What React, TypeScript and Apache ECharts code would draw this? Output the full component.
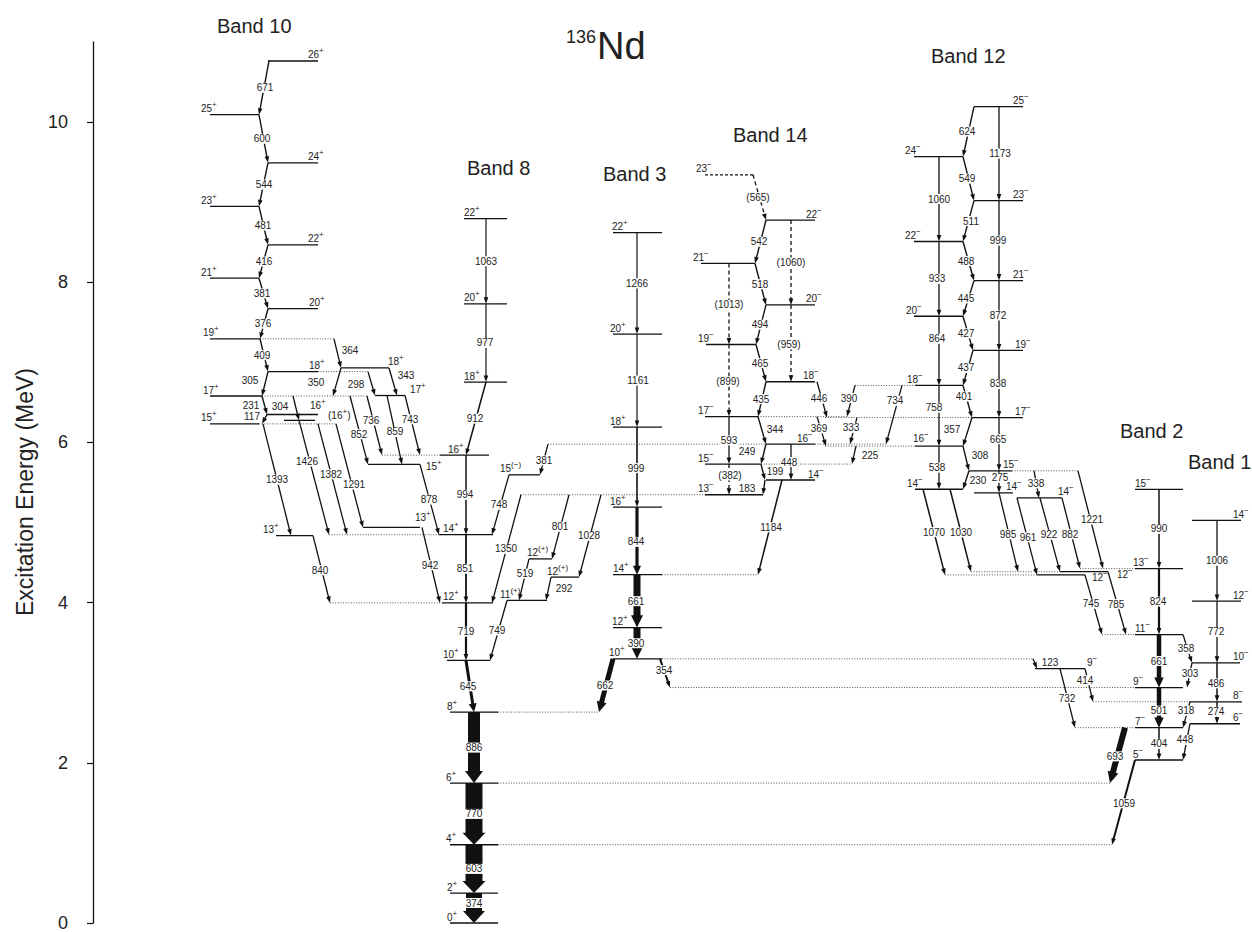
import React, { useEffect, useRef } from "react";
import * as echarts from "echarts";

const FONT = "'Liberation Sans', Arial, Helvetica, sans-serif";

// ---------- DATA: level energies (keV) and spins ----------
const levelEnergy: Record<string, number> = {
  g0: 0, g2: 374, g4: 977, g6: 1747, g8: 2633,
  b8_10: 3278, b8_12: 3997, b8_14: 4848, b8_16: 5842, b8_18: 6754, b8_20: 7731, b8_22: 8794,
  b8_13a: 4837, b8_13b: 4939, b8_15: 5726, b8_17: 6586, b8_18b: 6930,
  p11: 4027, p12a: 4546, p12b: 4319, p15: 5596,
  b10_15: 6232, b10_16: 6349, b10_16p: 6276, b10_17: 6580, b10_18: 6885, b10_19: 7294, b10_20: 7670,
  b10_21: 8051, b10_22: 8467, b10_23: 8948, b10_24: 9492, b10_25: 10092, b10_26: 10763,
  b3_10: 3298, b3_12: 3688, b3_14: 4349, b3_16: 5193, b3_18: 6192, b3_20: 7353, b3_22: 8619,
  b14_13: 5347, b14_14: 5531, b14_15: 5730, b14_16: 5979, b14_17: 6323, b14_18: 6758, b14_19: 7223,
  b14_20: 7717, b14_21: 8235, b14_22: 8777, b14_23: 9342,
  b12_14: 5416, b12_15: 5646, b12_16: 5954, b12_17: 6311, b12_18: 6712, b12_19: 7149, b12_20: 7576,
  b12_21: 8021, b12_22: 8509, b12_23: 9020, b12_24: 9569, b12_25: 10193,
  n14a: 5371, n14b: 5307, n12a: 4346, n12b: 4386, n9: 3175,
  b2_5: 2035, b2_7: 2439, b2_9: 2940, b2_11: 3601, b2_13: 4425, b2_15: 5415,
  b1_6: 2488, b1_8: 2762, b1_10: 3248, b1_12: 4020, b1_14: 5026,
};

const levelSpin: Record<string, string> = {
  g0: "0+", g2: "2+", g4: "4+", g6: "6+", g8: "8+",
  b8_10: "10+", b8_12: "12+", b8_14: "14+", b8_16: "16+", b8_18: "18+", b8_20: "20+", b8_22: "22+",
  b8_13a: "13+", b8_13b: "13+", b8_15: "15+", b8_17: "17+", b8_18b: "18+",
  p11: "11(+)", p12a: "12(+)", p12b: "12(+)", p15: "15(-)",
  b10_15: "15+", b10_16: "16+", b10_16p: "(16+)", b10_17: "17+", b10_18: "18+", b10_19: "19+", b10_20: "20+",
  b10_21: "21+", b10_22: "22+", b10_23: "23+", b10_24: "24+", b10_25: "25+", b10_26: "26+",
  b3_10: "10+", b3_12: "12+", b3_14: "14+", b3_16: "16+", b3_18: "18+", b3_20: "20+", b3_22: "22+",
  b14_13: "13-", b14_14: "14-", b14_15: "15-", b14_16: "16-", b14_17: "17-", b14_18: "18-", b14_19: "19-",
  b14_20: "20-", b14_21: "21-", b14_22: "22-", b14_23: "23-",
  b12_14: "14-", b12_15: "15-", b12_16: "16-", b12_17: "17-", b12_18: "18-", b12_19: "19-", b12_20: "20-",
  b12_21: "21-", b12_22: "22-", b12_23: "23-", b12_24: "24-", b12_25: "25-",
  n14a: "14-", n14b: "14-", n12a: "12-", n12b: "12-", n9: "9-",
  b2_5: "5-", b2_7: "7-", b2_9: "9-", b2_11: "11-", b2_13: "13-", b2_15: "15-",
  b1_6: "6-", b1_8: "8-", b1_10: "10-", b1_12: "12-", b1_14: "14-",
};

// ---------- DATA: gamma transitions [energy label, from level, to level] ----------
const transitions: [string, string, string][] = [
  ["671", "b10_26", "b10_25"], ["600", "b10_25", "b10_24"], ["544", "b10_24", "b10_23"],
  ["481", "b10_23", "b10_22"], ["416", "b10_22", "b10_21"], ["381", "b10_21", "b10_20"],
  ["376", "b10_20", "b10_19"], ["409", "b10_19", "b10_18"], ["305", "b10_18", "b10_17"],
  ["231", "b10_17", "b10_16"], ["117", "b10_16", "b10_15"], ["364", "b10_19", "b8_18b"],
  ["350", "b8_18b", "b10_17"], ["298", "b10_18", "b8_17"], ["343", "b8_18b", "b8_17"],
  ["304", "b10_17", "b10_16p"], ["1426", "b10_16p", "b8_14"], ["1393", "b10_15", "b8_13a"],
  ["1382", "b10_15", "b8_14"], ["1291", "b10_15", "b8_13b"], ["852", "b10_17", "b8_15"],
  ["736", "b10_17", "b8_16"], ["859", "b8_17", "b8_15"], ["743", "b8_17", "b8_16"],
  ["878", "b8_15", "b8_14"], ["840", "b8_13a", "b8_12"], ["942", "b8_13b", "b8_12"],
  ["1063", "b8_22", "b8_20"], ["977", "b8_20", "b8_18"], ["912", "b8_18", "b8_16"],
  ["994", "b8_16", "b8_14"], ["851", "b8_14", "b8_12"], ["719", "b8_12", "b8_10"],
  ["645", "b8_10", "g8"], ["886", "g8", "g6"], ["770", "g6", "g4"], ["603", "g4", "g2"], ["374", "g2", "g0"],
  ["748", "p15", "b8_14"], ["381", "b14_16", "p15"], ["1350", "b14_13", "b8_12"],
  ["801", "b14_13", "p12a"], ["1028", "b14_13", "p12b"], ["519", "p12a", "p11"],
  ["292", "p12b", "p11"], ["749", "p11", "b8_10"],
  ["1266", "b3_22", "b3_20"], ["1161", "b3_20", "b3_18"], ["999", "b3_18", "b3_16"],
  ["844", "b3_16", "b3_14"], ["661", "b3_14", "b3_12"], ["390", "b3_12", "b3_10"],
  ["662", "b3_10", "g8"], ["354", "b3_10", "b2_9"], ["1184", "b14_14", "b3_14"],
  ["(565)", "b14_23", "b14_22"], ["542", "b14_22", "b14_21"], ["518", "b14_21", "b14_20"],
  ["494", "b14_20", "b14_19"], ["465", "b14_19", "b14_18"], ["435", "b14_18", "b14_17"],
  ["344", "b14_17", "b14_16"], ["249", "b14_16", "b14_15"], ["199", "b14_15", "b14_14"],
  ["183", "b14_14", "b14_13"], ["(1060)", "b14_22", "b14_20"], ["(959)", "b14_20", "b14_18"],
  ["(1013)", "b14_21", "b14_19"], ["(899)", "b14_19", "b14_17"], ["593", "b14_17", "b14_15"],
  ["(382)", "b14_15", "b14_13"], ["448", "b14_16", "b14_14"], ["446", "b14_18", "b12_17"],
  ["369", "b14_17", "b12_16"], ["390", "b12_18", "b14_17"], ["333", "b12_17", "b14_16"],
  ["734", "b12_18", "b14_16"], ["225", "b12_16", "b14_15"],
  ["624", "b12_25", "b12_24"], ["549", "b12_24", "b12_23"], ["511", "b12_23", "b12_22"],
  ["488", "b12_22", "b12_21"], ["445", "b12_21", "b12_20"], ["427", "b12_20", "b12_19"],
  ["437", "b12_19", "b12_18"], ["401", "b12_18", "b12_17"], ["357", "b12_17", "b12_16"],
  ["308", "b12_16", "b12_15"], ["230", "b12_15", "b12_14"], ["1060", "b12_24", "b12_22"],
  ["933", "b12_22", "b12_20"], ["864", "b12_20", "b12_18"], ["758", "b12_18", "b12_16"],
  ["538", "b12_16", "b12_14"], ["1173", "b12_25", "b12_23"], ["999", "b12_23", "b12_21"],
  ["872", "b12_21", "b12_19"], ["838", "b12_19", "b12_17"], ["665", "b12_17", "b12_15"],
  ["275", "b12_15", "n14a"], ["338", "b12_15", "n14b"], ["922", "n14b", "n12b"],
  ["1221", "b12_15", "b2_13"], ["1070", "b12_14", "n12a"], ["1030", "b12_14", "n12b"],
  ["985", "n14a", "n12b"], ["961", "n14b", "n12a"], ["882", "n14b", "b2_13"],
  ["745", "n12a", "b2_11"], ["785", "n12b", "b2_11"],
  ["990", "b2_15", "b2_13"], ["824", "b2_13", "b2_11"], ["661", "b2_11", "b2_9"],
  ["501", "b2_9", "b2_7"], ["404", "b2_7", "b2_5"], ["693", "b2_7", "g6"], ["1059", "b2_5", "g4"],
  ["123", "b3_10", "n9"], ["414", "n9", "b1_8"], ["732", "n9", "b2_7"],
  ["358", "b2_11", "b1_10"], ["303", "b1_10", "b2_9"], ["318", "b1_8", "b2_7"], ["448", "b1_6", "b2_5"],
  ["1006", "b1_14", "b1_12"], ["772", "b1_12", "b1_10"], ["486", "b1_10", "b1_8"], ["274", "b1_8", "b1_6"],
];

// ---------- LAYOUT (horizontal positions, widths, styles) ----------
// level segment: [level, x1, x2, style 0 solid / 1 dotted / 2 dashed]
const levelSegments: [string, number, number, number][] = [
  ["g0", 450, 498, 0], ["g2", 450, 498, 0], ["g4", 450, 498, 0], ["g4", 498, 1112, 1],
  ["g6", 450, 498, 0], ["g6", 498, 1110, 1], ["g8", 450, 498, 0], ["g8", 498, 599, 1],
  ["b8_10", 447, 490, 0], ["b8_12", 442, 493, 0], ["b8_12", 330, 442, 1], ["b8_14", 439, 493, 0],
  ["b8_14", 329, 439, 1], ["b8_16", 440, 489, 0], ["b8_16", 382, 440, 1], ["b8_18", 464, 507, 0],
  ["b8_20", 464, 507, 0], ["b8_22", 464, 507, 0],
  ["b8_13a", 276, 313, 0], ["b8_13b", 363, 420, 0], ["b8_15", 368, 420, 0], ["b8_17", 375, 405, 0],
  ["b8_18b", 341, 389, 0],
  ["p11", 507, 547, 0], ["p12a", 529, 552, 0], ["p12b", 551, 579, 0], ["p15", 509, 540, 0],
  ["b10_15", 210, 259, 0], ["b10_15", 259, 336, 1], ["b10_16", 267, 318, 0], ["b10_16p", 284, 315, 0],
  ["b10_17", 210, 262, 0], ["b10_17", 262, 367, 1], ["b10_18", 268, 318, 0], ["b10_18", 318, 368, 1],
  ["b10_19", 210, 260, 0], ["b10_19", 260, 334, 1], ["b10_20", 268, 318, 0], ["b10_21", 210, 259, 0],
  ["b10_22", 268, 318, 0], ["b10_23", 210, 259, 0], ["b10_24", 268, 318, 0], ["b10_25", 210, 259, 0],
  ["b10_26", 268, 318, 0],
  ["b3_10", 613, 662, 0], ["b3_10", 662, 1033, 1], ["b3_12", 613, 662, 0], ["b3_14", 613, 662, 0],
  ["b3_14", 662, 758, 1], ["b3_16", 613, 662, 0], ["b3_18", 613, 662, 0], ["b3_20", 613, 662, 0],
  ["b3_22", 613, 662, 0],
  ["b14_13", 705, 763, 0], ["b14_13", 520, 705, 1], ["b14_14", 766, 815, 0], ["b14_15", 705, 761, 0],
  ["b14_15", 761, 852, 1], ["b14_16", 766, 815, 0], ["b14_16", 548, 766, 1], ["b14_16", 815, 886, 1],
  ["b14_17", 705, 758, 0], ["b14_17", 758, 848, 1], ["b14_18", 766, 815, 0], ["b14_19", 706, 756, 0],
  ["b14_20", 766, 815, 0], ["b14_21", 701, 755, 0], ["b14_22", 766, 815, 0], ["b14_23", 705, 753, 2],
  ["b12_14", 915, 963, 0], ["b12_15", 969, 1012, 0], ["b12_15", 1012, 1078, 1], ["b12_16", 915, 963, 0],
  ["b12_16", 825, 915, 1], ["b12_17", 972, 1023, 0], ["b12_17", 825, 972, 1], ["b12_18", 915, 963, 0],
  ["b12_18", 855, 915, 1], ["b12_19", 973, 1023, 0], ["b12_20", 914, 963, 0], ["b12_21", 974, 1023, 0],
  ["b12_22", 914, 963, 0], ["b12_23", 974, 1023, 0], ["b12_24", 914, 963, 0], ["b12_25", 974, 1023, 0],
  ["n14a", 974, 1013, 0], ["n14b", 1017, 1062, 0], ["n12a", 1037, 1085, 0], ["n12a", 945, 1037, 1],
  ["n12b", 1060, 1108, 0], ["n12b", 971, 1060, 1], ["n9", 1035, 1085, 0],
  ["b2_5", 1135, 1183, 0], ["b2_7", 1135, 1183, 0], ["b2_7", 1075, 1135, 1], ["b2_9", 1135, 1183, 0],
  ["b2_9", 670, 1135, 1], ["b2_11", 1135, 1183, 0], ["b2_11", 1102, 1135, 1], ["b2_13", 1135, 1183, 0],
  ["b2_13", 1080, 1135, 1], ["b2_15", 1135, 1183, 0],
  ["b1_6", 1190, 1240, 0], ["b1_8", 1190, 1242, 0], ["b1_8", 1093, 1190, 1], ["b1_10", 1192, 1240, 0],
  ["b1_12", 1192, 1241, 0], ["b1_14", 1192, 1241, 0],
];

// spin label: [left x, vertical offset px]
const spinLabelPos: Record<string, [number, number]> = {
  g0: [447, 0], g2: [447, 0], g4: [446, 0], g6: [446, 0], g8: [447, 0],
  b8_10: [443, 0], b8_12: [443, 0], b8_14: [443, 0], b8_16: [448, 0], b8_18: [464, 0], b8_20: [464, 0], b8_22: [464, 0],
  b8_13a: [263, 0], b8_13b: [415, -4], b8_15: [426, 8], b8_17: [410, 0], b8_18b: [388, 0],
  p11: [500, 0], p12a: [527, 0], p12b: [547, 0], p15: [500, 0],
  b10_15: [201, 0], b10_16: [310, -3], b10_16p: [328, 1], b10_17: [203, 0], b10_18: [309, 0], b10_19: [203, 0],
  b10_20: [309, 0], b10_21: [201, 0], b10_22: [308, 0], b10_23: [201, 0], b10_24: [308, 0], b10_25: [201, 0], b10_26: [308, 0],
  b3_10: [609, 0], b3_12: [612, 0], b3_14: [613, 0], b3_16: [610, 0], b3_18: [610, 0], b3_20: [610, 0], b3_22: [612, 0],
  b14_23: [696, 0], b14_22: [806, 0], b14_21: [693, 0], b14_20: [806, 0], b14_19: [698, 0], b14_18: [803, 0],
  b14_17: [698, 0], b14_16: [797, 0], b14_15: [698, 0], b14_14: [808, 0], b14_13: [698, 0],
  b12_25: [1013, 0], b12_24: [905, 0], b12_23: [1013, 0], b12_22: [905, 0], b12_21: [1013, 0], b12_20: [906, 0],
  b12_19: [1015, 0], b12_18: [907, 0], b12_17: [1015, 0], b12_16: [913, -2], b12_15: [1003, 0], b12_14: [907, 0],
  n14a: [1006, 0], n14b: [1058, 0], n12a: [1092, 9], n12b: [1117, 9], n9: [1087, 0],
  b2_15: [1135, 0], b2_13: [1133, 0], b2_11: [1135, 0], b2_9: [1133, 0], b2_7: [1135, 0], b2_5: [1133, 0],
  b1_14: [1233, 0], b1_12: [1233, 0], b1_10: [1233, 0], b1_8: [1233, 0], b1_6: [1233, 0],
};

// transition layout keyed "from>to": [xFrom, xTo, lineWidth, dashed, labelX, labelDy]
const transitionLayout: Record<string, number[]> = {
  "b10_26>b10_25": [269, 259, 1.4, 0, 265, 0], "b10_25>b10_24": [259, 268, 1.4, 0, 262, 0],
  "b10_24>b10_23": [268, 259, 1.4, 0, 264, 0], "b10_23>b10_22": [259, 268, 1.4, 0, 263, 0],
  "b10_22>b10_21": [268, 259, 1.4, 0, 264, 0], "b10_21>b10_20": [259, 268, 1.4, 0, 262, 0],
  "b10_20>b10_19": [268, 260, 1.4, 0, 263, 0], "b10_19>b10_18": [260, 268, 1.4, 0, 262, 0],
  "b10_18>b10_17": [268, 262, 1.4, 0, 250, -3], "b10_17>b10_16": [262, 267, 1.4, 0, 251, 0],
  "b10_16>b10_15": [267, 262, 1.4, 0, 252, -3], "b10_19>b8_18b": [334, 341, 1.3, 0, 350, -3],
  "b8_18b>b10_17": [341, 333, 1.3, 0, 316, 1], "b10_18>b8_17": [368, 375, 1.3, 0, 356, 1],
  "b8_18b>b8_17": [389, 397, 1.3, 0, 406, -6], "b10_17>b10_16p": [293, 299, 1.3, 0, 280, -2],
  "b10_16p>b8_14": [299, 329, 1.3, 0, 307, -16], "b10_15>b8_13a": [263, 291, 1.3, 0, 277, 0],
  "b10_15>b8_14": [318, 347, 1.3, 0, 331, -5], "b10_15>b8_13b": [336, 363, 1.3, 0, 354, 9],
  "b10_17>b8_15": [350, 368, 1.3, 0, 359, 4], "b10_17>b8_16": [367, 382, 1.3, 0, 371, -5],
  "b8_17>b8_15": [387, 402, 1.3, 0, 395, 2], "b8_17>b8_16": [405, 420, 1.3, 0, 410, -6],
  "b8_15>b8_14": [420, 439, 1.3, 0, 429, 0], "b8_13a>b8_12": [313, 330, 1.3, 0, 320, 1],
  "b8_13b>b8_12": [422, 440, 1.3, 0, 430, 0],
  "b8_22>b8_20": [486, 486, 1.2, 0, 486, 0], "b8_20>b8_18": [486, 486, 1.2, 0, 485, 0],
  "b8_18>b8_16": [486, 466, 1.5, 0, 475, 0], "b8_16>b8_14": [466, 466, 1.5, 0, 465, 0],
  "b8_14>b8_12": [466, 466, 1.8, 0, 465, 0], "b8_12>b8_10": [466, 466, 2.2, 0, 466, 0],
  "b8_10>g8": [466, 474, 3, 0, 468, 0], "g8>g6": [474, 474, 12, 0, 474, 0],
  "g6>g4": [474, 474, 17, 0, 474, 0], "g4>g2": [474, 474, 17, 0, 474, 0], "g2>g0": [474, 474, 16, 0, 474, -5],
  "p15>b8_14": [509, 492, 1.3, 0, 499, 0], "b14_16>p15": [548, 540, 1.3, 0, 544, 1],
  "b14_13>b8_12": [521, 492, 1.3, 0, 506, 0], "b14_13>p12a": [569, 552, 1.3, 0, 560, 0],
  "b14_13>p12b": [601, 579, 1.3, 0, 589, 0], "p12a>p11": [529, 519, 1.3, 0, 525, -6],
  "p12b>p11": [551, 546, 1.3, 0, 564, 0], "p11>b8_10": [507, 490, 1.3, 0, 497, 0],
  "b3_22>b3_20": [637, 637, 1.2, 0, 637, 0], "b3_20>b3_18": [637, 637, 1.2, 0, 638, 0],
  "b3_18>b3_16": [637, 637, 1.6, 0, 636, 1], "b3_16>b3_14": [637, 637, 3.2, 0, 636, 1],
  "b3_14>b3_12": [637, 637, 7, 0, 636, 0], "b3_12>b3_10": [637, 637, 7, 0, 636, 0],
  "b3_10>g8": [613, 599, 5, 0, 605, 0], "b3_10>b2_9": [660, 670, 2, 0, 664, -3],
  "b14_14>b3_14": [782, 758, 1.5, 0, 771, 0],
  "b14_23>b14_22": [753, 766, 1.3, 1, 758, 0], "b14_22>b14_21": [766, 755, 1.4, 0, 759, 0],
  "b14_21>b14_20": [755, 766, 1.4, 0, 760, 0], "b14_20>b14_19": [766, 756, 1.4, 0, 760, 0],
  "b14_19>b14_18": [756, 766, 1.4, 0, 760, 0], "b14_18>b14_17": [766, 758, 1.4, 0, 761, 0],
  "b14_17>b14_16": [758, 766, 1.4, 0, 775, -1], "b14_16>b14_15": [766, 761, 1.4, 0, 747, -3],
  "b14_15>b14_14": [761, 765, 1.4, 0, 775, -1], "b14_14>b14_13": [765, 763, 1.4, 0, 747, 1],
  "b14_22>b14_20": [791, 791, 1.3, 1, 791, 0], "b14_20>b14_18": [791, 791, 1.3, 1, 789, 1],
  "b14_21>b14_19": [729, 729, 1.3, 1, 729, 1], "b14_19>b14_17": [729, 729, 1.3, 1, 728, 1],
  "b14_17>b14_15": [729, 729, 1.3, 0, 729, 0], "b14_15>b14_13": [729, 729, 1.3, 1, 730, -4],
  "b14_16>b14_14": [791, 791, 1.3, 0, 789, 0], "b14_18>b12_17": [817, 827, 1.3, 0, 819, -1],
  "b14_17>b12_16": [817, 826, 1.3, 0, 819, -3], "b12_18>b14_17": [855, 847, 1.3, 0, 849, -3],
  "b12_17>b14_16": [857, 850, 1.3, 0, 851, -3], "b12_18>b14_16": [902, 886, 1.3, 0, 895, -14],
  "b12_16>b14_15": [856, 852, 1.3, 0, 870, 0],
  "b12_25>b12_24": [974, 963, 1.4, 0, 967, 0], "b12_24>b12_23": [963, 974, 1.4, 0, 967, 0],
  "b12_23>b12_22": [974, 963, 1.4, 0, 971, 0], "b12_22>b12_21": [963, 974, 1.4, 0, 966, 0],
  "b12_21>b12_20": [974, 963, 1.4, 0, 966, 0], "b12_20>b12_19": [963, 973, 1.4, 0, 966, 0],
  "b12_19>b12_18": [973, 963, 1.4, 0, 966, 0], "b12_18>b12_17": [963, 972, 1.4, 0, 964, -5],
  "b12_17>b12_16": [972, 963, 1.4, 0, 952, -2], "b12_16>b12_15": [963, 969, 1.4, 0, 980, -3],
  "b12_15>b12_14": [969, 963, 1.4, 0, 978, 0], "b12_24>b12_22": [939, 939, 1.3, 0, 939, 0],
  "b12_22>b12_20": [939, 939, 1.3, 0, 937, 0], "b12_20>b12_18": [939, 939, 1.3, 0, 937, -12],
  "b12_18>b12_16": [939, 939, 1.3, 0, 934, -8], "b12_16>b12_14": [939, 939, 1.3, 0, 937, 0],
  "b12_25>b12_23": [999, 999, 1.3, 0, 1000, 0], "b12_23>b12_21": [999, 999, 1.3, 0, 998, 0],
  "b12_21>b12_19": [999, 999, 1.3, 0, 998, 0], "b12_19>b12_17": [999, 999, 1.3, 0, 998, 0],
  "b12_17>b12_15": [999, 999, 1.3, 0, 998, -5], "b12_15>n14a": [999, 999, 1.3, 0, 1000, -4],
  "b12_15>n14b": [1034, 1039, 1.3, 0, 1036, -1], "n14b>n12b": [1040, 1060, 1.3, 0, 1049, 0],
  "b12_15>b2_13": [1078, 1103, 1.3, 0, 1092, 0], "b12_14>n12a": [923, 945, 1.5, 0, 934, 0],
  "b12_14>n12b": [950, 971, 1.5, 0, 961, 2], "n14a>n12b": [999, 1018, 1.3, 0, 1008, 2],
  "n14b>n12a": [1017, 1037, 1.3, 0, 1028, 1], "n14b>b2_13": [1062, 1080, 1.3, 0, 1070, 1],
  "n12a>b2_11": [1085, 1102, 1.3, 0, 1091, -1], "n12b>b2_11": [1108, 1126, 1.3, 0, 1116, 1],
  "b2_15>b2_13": [1159, 1159, 1.5, 0, 1159, 0], "b2_13>b2_11": [1159, 1159, 2.2, 0, 1158, 0],
  "b2_11>b2_9": [1159, 1159, 4.5, 0, 1159, 0], "b2_9>b2_7": [1159, 1159, 4.5, 0, 1159, 3],
  "b2_7>b2_5": [1159, 1159, 1.5, 0, 1159, 0], "b2_7>g6": [1125, 1110, 6, 0, 1115, 1],
  "b2_5>g4": [1135, 1112, 2, 0, 1124, 1], "b3_10>n9": [1033, 1037, 1.3, 0, 1050, -1],
  "n9>b1_8": [1085, 1093, 1.3, 0, 1085, -5], "n9>b2_7": [1060, 1075, 1.3, 0, 1067, 0],
  "b2_11>b1_10": [1183, 1192, 1.3, 0, 1186, 0], "b1_10>b2_9": [1192, 1187, 1.3, 0, 1190, -2],
  "b1_8>b2_7": [1190, 1183, 1.3, 0, 1186, -4], "b1_6>b2_5": [1190, 1183, 1.3, 0, 1185, -2],
  "b1_14>b1_12": [1217, 1217, 1.3, 0, 1217, 0], "b1_12>b1_10": [1217, 1217, 1.3, 0, 1216, 0],
  "b1_10>b1_8": [1217, 1217, 1.5, 0, 1216, 1], "b1_8>b1_6": [1217, 1217, 1.5, 0, 1216, -1],
};

const bandTitles: [string, number, number][] = [
  ["Band 10", 217, 25.5], ["Band 8", 467, 167.5], ["Band 3", 603, 173.5], ["Band 14", 733, 134.5],
  ["Band 12", 931, 56], ["Band 2", 1120, 430.5], ["Band 1", 1188, 461.5],
];

const yTicksMajor = 2;
const yMax = 11;

function spinRich(s: string): string {
  const m = s.match(/^(\(?)(\d+)(\([+-]\)|[+-])(\)?)$/);
  if (!m) return `{n|${s}}`;
  const sign = m[3].replace("-", "\u2212");
  return `{n|${m[1]}${m[2]}}{s|${sign}}` + (m[4] ? `{n|${m[4]}}` : "");
}

const E = (id: string) => levelEnergy[id] / 1000;

function buildOption(): any {
  const spinIds = Object.keys(spinLabelPos);

  const levelSeries = {
    type: "custom",
    coordinateSystem: "cartesian2d",
    silent: true,
    data: levelSegments.map((s) => [s[1], E(s[0])]),
    renderItem: (params: any, api: any) => {
      const s = levelSegments[params.dataIndex];
      const e = E(s[0]);
      const a = api.coord([s[1], e]);
      const b = api.coord([s[2], e]);
      const st = s[3];
      return {
        type: "line",
        z2: st === 0 ? 2 : 1,
        shape: { x1: a[0], y1: a[1], x2: b[0], y2: b[1] },
        style: {
          stroke: st === 1 ? "#555" : "#111",
          lineWidth: st === 1 ? 1 : 1.3,
          lineDash: st === 1 ? [1, 1.6] : st === 2 ? [3, 2] : null,
        },
      };
    },
  };

  const spinSeries = {
    type: "custom",
    coordinateSystem: "cartesian2d",
    silent: true,
    data: spinIds.map((id) => [spinLabelPos[id][0], E(id)]),
    renderItem: (params: any, api: any) => {
      const id = spinIds[params.dataIndex];
      const [lx, dy] = spinLabelPos[id];
      const p = api.coord([lx, E(id)]);
      return {
        type: "text",
        z2: 20,
        x: p[0],
        y: p[1] - 1 + dy,
        style: {
          text: spinRich(levelSpin[id]),
          align: "left",
          verticalAlign: "bottom",
          fill: "#222",
          rich: {
            n: { fontSize: 10, fontFamily: FONT, fill: "#222", lineHeight: 13, verticalAlign: "bottom" },
            s: { fontSize: 8, fontFamily: FONT, fill: "#222", lineHeight: 8, verticalAlign: "top" },
          },
        },
      };
    },
  };

  const gammaSeries = {
    type: "custom",
    coordinateSystem: "cartesian2d",
    silent: true,
    data: transitions.map((t) => [transitionLayout[t[1] + ">" + t[2]][0], E(t[1])]),
    renderItem: (params: any, api: any) => {
      const [label, from, to] = transitions[params.dataIndex];
      const lay = transitionLayout[from + ">" + to];
      const [xf, xt, w, dashed, lx, ldy] = lay;
      const a = api.coord([xf, E(from)]);
      const b = api.coord([xt, E(to)]);
      const dx = b[0] - a[0];
      const dy = b[1] - a[1];
      const L = Math.hypot(dx, dy) || 1;
      const ux = dx / L, uy = dy / L;
      const nx = -uy, ny = ux;
      const children: any[] = [];
      if (w >= 8) {
        const hl = 12, hw = w / 2 + 3, sw = w / 2;
        const bx = b[0] - ux * hl, by = b[1] - uy * hl;
        children.push({
          type: "polygon",
          z2: 3,
          shape: {
            points: [
              [a[0] + nx * sw, a[1] + ny * sw],
              [bx + nx * sw, by + ny * sw],
              [bx + nx * hw, by + ny * hw],
              [b[0], b[1]],
              [bx - nx * hw, by - ny * hw],
              [bx - nx * sw, by - ny * sw],
              [a[0] - nx * sw, a[1] - ny * sw],
            ],
          },
          style: { fill: "#111" },
        });
      } else {
        const hl = w >= 3 ? 6 + w * 0.9 : 6.5;
        const hw = w >= 3 ? w / 2 + 2.5 : 2.3;
        const bx = b[0] - ux * hl, by = b[1] - uy * hl;
        children.push({
          type: "line",
          z2: 3,
          shape: { x1: a[0], y1: a[1], x2: bx + ux * 1.5, y2: by + uy * 1.5 },
          style: { stroke: "#111", lineWidth: w, lineDash: dashed ? [4, 3] : null },
        });
        children.push({
          type: "polygon",
          z2: 3,
          shape: {
            points: [
              [b[0], b[1]],
              [bx + nx * hw, by + ny * hw],
              [bx - nx * hw, by - ny * hw],
            ],
          },
          style: { fill: "#111" },
        });
      }
      const lxp = api.coord([lx, 0])[0];
      children.push({
        type: "text",
        z2: 10,
        x: lxp,
        y: (a[1] + b[1]) / 2 + ldy,
        style: {
          text: label,
          fontSize: 10,
          fontFamily: FONT,
          fill: "#222",
          align: "center",
          verticalAlign: "middle",
          backgroundColor: "#fff",
          padding: [0, 1],
        },
      });
      return { type: "group", children };
    },
  };

  const graphic: any[] = bandTitles.map(([t, x, y]) => ({
    type: "text",
    x,
    y,
    style: { text: t, fontSize: 20, fontFamily: FONT, fill: "#222", align: "left", verticalAlign: "middle" },
  }));
  graphic.push({
    type: "text",
    x: 597,
    y: 46,
    style: { text: "Nd", fontSize: 38, fontFamily: FONT, fill: "#222", align: "left", verticalAlign: "middle" },
  });
  graphic.push({
    type: "text",
    x: 596,
    y: 37,
    style: { text: "136", fontSize: 18, fontFamily: FONT, fill: "#222", align: "right", verticalAlign: "middle" },
  });
  graphic.push({
    type: "text",
    x: 25,
    y: 492,
    rotation: Math.PI / 2,
    style: {
      text: "Excitation Energy (MeV)",
      fontSize: 23,
      fontFamily: FONT,
      fill: "#222",
      align: "center",
      verticalAlign: "middle",
    },
  });

  return {
    animation: false,
    backgroundColor: "#fff",
    grid: { left: 93, right: 0, top: 42, bottom: 5, containLabel: false },
    xAxis: { type: "value", min: 93, max: 1252, show: false },
    yAxis: [
      {
        type: "value",
        min: 0,
        max: yMax,
        interval: yTicksMajor,
        axisLine: { show: true, lineStyle: { color: "#111", width: 1.3 } },
        axisTick: { show: true, length: 6, lineStyle: { color: "#111", width: 1.2 } },
        axisLabel: {
          show: true,
          fontSize: 18,
          fontFamily: FONT,
          color: "#222",
          margin: 25,
          showMaxLabel: false,
        },
        splitLine: { show: false },
      },
      {
        type: "value",
        min: 0,
        max: yMax,
        interval: 1,
        axisLine: { show: false },
        axisTick: { show: true, length: 3, lineStyle: { color: "#111", width: 1 } },
        axisLabel: { show: false },
        splitLine: { show: false },
      },
    ],
    graphic,
    series: [levelSeries, gammaSeries, spinSeries],
  };
}

export default function App() {
  const ref = useRef<HTMLDivElement>(null);
  useEffect(() => {
    if (!ref.current) return;
    const chart = echarts.init(ref.current, null, { renderer: "svg" });
    chart.setOption(buildOption());
    return () => chart.dispose();
  }, []);
  return (
    <div
      ref={ref}
      style={{ position: "fixed", left: 0, top: 0, width: 1252, height: 932, background: "#fff" }}
    />
  );
}
